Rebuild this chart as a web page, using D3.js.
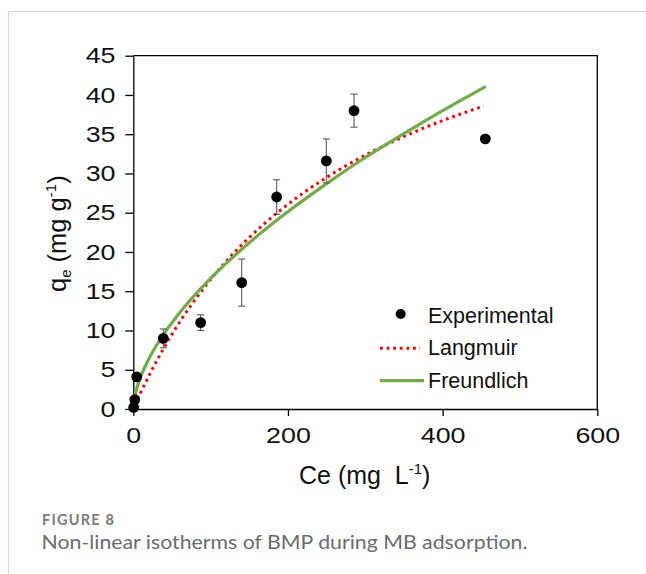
<!DOCTYPE html>
<html>
<head>
<meta charset="utf-8">
<script src="https://cdn.jsdelivr.net/npm/d3@7"></script>
<style>
  html, body { margin: 0; padding: 0; background: #fff; }
  svg { display: block; }
</style>
</head>
<body>
<svg id="chart" width="646" height="574"></svg>
<script>
// ---- data ----
const expCe    = [0.5, 2, 4.5, 38.8, 87.1, 140.2, 185.4, 249.6, 285.4, 455.2];
const expQe    = [0.2, 1.2, 4.1, 9.0, 11.0, 16.1, 27.0, 31.6, 38.0, 34.4];
const expErr   = [0, 0, 0, 1.2, 1.0, 3.0, 2.2, 2.8, 2.1, 0];

const langCe   = [2, 5, 10, 20, 40, 60, 90, 120, 150, 190, 250, 300, 350, 400, 453];
const langQe   = [0.45, 1.10, 2.17, 4.19, 7.85, 11.08, 15.25, 18.80, 21.85, 25.30, 29.5, 32.33, 34.71, 36.74, 38.58];

const freuCe   = [2, 5, 10, 20, 40, 60, 90, 120, 150, 190, 250, 300, 350, 400, 456];
const freuQe   = [1.62, 2.79, 4.22, 6.37, 9.63, 12.27, 15.62, 18.54, 21.18, 24.38, 28.7, 32.03, 35.08, 38.0, 41.1];

const xTicks   = [0, 200, 400, 600];
const yTicks   = [0, 5, 10, 15, 20, 25, 30, 35, 40, 45];
const legendLabels = ["Experimental", "Langmuir", "Freundlich"];

// ---- layout ----
const svg = d3.select("#chart");
const L = 133.3, R = 597.3, T = 55.7, B = 409;
const x = d3.scaleLinear().domain([0, 600]).range([L, R]);
const y = d3.scaleLinear().domain([0, 45]).range([B, T]);

// card border
svg.append("path").attr("d", "M8.5,574 V11.5 H646")
  .attr("fill", "none").attr("stroke", "#d9d9d9").attr("stroke-width", 1.2);

const tickFont = "Liberation Sans, Arial, sans-serif";

// axes
const xAxis = svg.append("g").attr("transform", `translate(0,${B})`)
  .call(d3.axisBottom(x).tickValues(xTicks).tickSize(7).tickSizeOuter(0).tickPadding(10));
const yAxis = svg.append("g").attr("transform", `translate(${L},0)`)
  .call(d3.axisLeft(y).tickValues(yTicks).tickSize(8).tickSizeOuter(0).tickPadding(8));
[xAxis, yAxis].forEach(g => {
  g.select(".domain").attr("stroke", "#000").attr("stroke-width", 1.3);
  g.selectAll(".tick line").attr("stroke", "#000").attr("stroke-width", 1.3);
  g.selectAll(".tick text").attr("fill", "#111")
    .attr("font-family", tickFont).attr("font-size", 22);
});
xAxis.selectAll(".tick text").attr("dy", "0.78em").attr("transform", "scale(1.22,1)");
yAxis.selectAll(".tick text")
  .attr("text-anchor", "end").attr("transform", "translate(-8,0) scale(1.22,1) translate(8,0)");

// top & right frame
svg.append("path").attr("d", `M${L},${T} H${R} V${B}`)
  .attr("fill", "none").attr("stroke", "#000").attr("stroke-width", 1.3);

// curves
const lineGen = d3.line().x(d => x(d[0])).y(d => y(d[1])).curve(d3.curveMonotoneX);
svg.append("path").datum(langCe.map((c, i) => [c, langQe[i]]))
  .attr("d", lineGen).attr("fill", "none")
  .attr("stroke", "#ff0000").attr("stroke-width", 3)
  .attr("stroke-dasharray", "2.8 3.8");
svg.append("path").datum(freuCe.map((c, i) => [c, freuQe[i]]))
  .attr("d", lineGen).attr("fill", "none")
  .attr("stroke", "#70ad47").attr("stroke-width", 3.2);

// error bars
const eb = svg.append("g").attr("stroke", "#595959").attr("stroke-width", 1.1);
expCe.forEach((c, i) => {
  if (!expErr[i]) return;
  const cx = x(c), y1 = y(expQe[i] + expErr[i]), y2 = y(expQe[i] - expErr[i]);
  eb.append("line").attr("x1", cx).attr("x2", cx).attr("y1", y1).attr("y2", y2);
  eb.append("line").attr("x1", cx - 3.5).attr("x2", cx + 3.5).attr("y1", y1).attr("y2", y1);
  eb.append("line").attr("x1", cx - 3.5).attr("x2", cx + 3.5).attr("y1", y2).attr("y2", y2);
});

// points
svg.append("g").selectAll("circle").data(expCe.map((c, i) => [c, expQe[i]]))
  .join("circle").attr("cx", d => x(d[0])).attr("cy", d => y(d[1]))
  .attr("r", 5.4).attr("fill", "#000");

// legend
const lg = svg.append("g").attr("font-family", tickFont).attr("font-size", 21.5).attr("fill", "#111");
lg.append("circle").attr("cx", 400.7).attr("cy", 314).attr("r", 5).attr("fill", "#000");
lg.append("line").attr("x1", 380).attr("x2", 420).attr("y1", 348.3).attr("y2", 348.3)
  .attr("stroke", "#ff0000").attr("stroke-width", 3).attr("stroke-dasharray", "2.8 3.8");
lg.append("line").attr("x1", 380).attr("x2", 424).attr("y1", 380.7).attr("y2", 380.7)
  .attr("stroke", "#70ad47").attr("stroke-width", 3.2);
const lgY = [323, 354.5, 388];
legendLabels.forEach((t, i) => {
  lg.append("text").attr("x", 428).attr("y", lgY[i]).text(t);
});

// axis titles
const xt = svg.append("text").attr("font-family", tickFont).attr("font-size", 25)
  .attr("fill", "#111").attr("x", 299).attr("y", 484).attr("xml:space", "preserve");
xt.append("tspan").text("Ce (mg  L");
xt.append("tspan").attr("font-size", 15).attr("dy", -10).text("-1");
xt.append("tspan").attr("dy", 10).text(")");

const yt = svg.append("text").attr("font-family", tickFont).attr("font-size", 25.5)
  .attr("fill", "#111").attr("transform", "translate(66,292) rotate(-90)");
yt.append("tspan").text("q");
yt.append("tspan").attr("font-size", 15).attr("dy", 5).text("e");
yt.append("tspan").attr("dy", -5).text(" (mg g");
yt.append("tspan").attr("font-size", 15).attr("dy", -10).text("-1");
yt.append("tspan").attr("dy", 10).text(")");

// caption
svg.append("text").attr("x", 42).attr("y", 525)
  .attr("font-family", "Lato, sans-serif").attr("font-size", 14.5).attr("font-weight", 700)
  .attr("textLength", 72).attr("lengthAdjust", "spacing")
  .attr("fill", "#7a7a7a").text("FIGURE 8");
svg.append("text").attr("x", 41.5).attr("y", 548.5)
  .attr("font-family", "Lato, sans-serif").attr("font-size", 20)
  .attr("textLength", 486).attr("lengthAdjust", "spacingAndGlyphs")
  .attr("fill", "#6b6b6b").text("Non-linear isotherms of BMP during MB adsorption.");
</script>
</body>
</html>
